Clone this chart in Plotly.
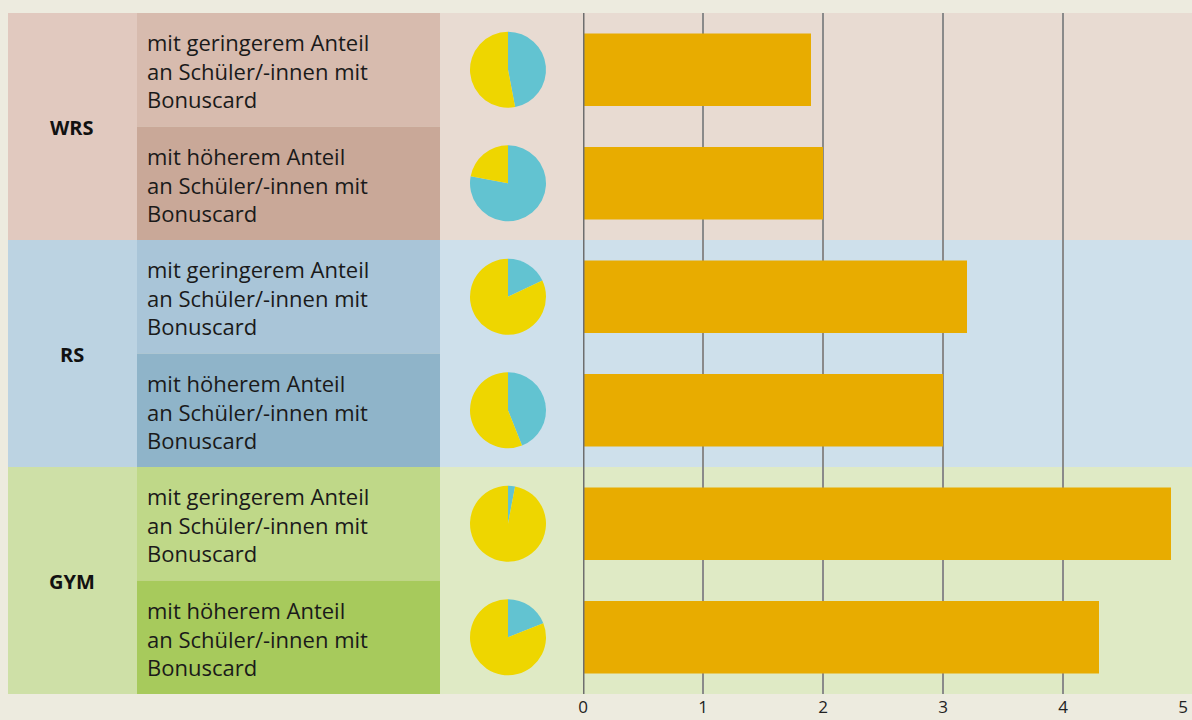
import plotly.graph_objects as go

# ---------------- data ----------------
groups = ["WRS", "RS", "GYM"]
row_ids = ["WRS-ger", "WRS-hoe", "RS-ger", "RS-hoe", "GYM-ger", "GYM-hoe"]
row_labels = [
    "mit geringerem Anteil<br>an Schüler/-innen mit<br>Bonuscard",
    "mit höherem Anteil<br>an Schüler/-innen mit<br>Bonuscard",
    "mit geringerem Anteil<br>an Schüler/-innen mit<br>Bonuscard",
    "mit höherem Anteil<br>an Schüler/-innen mit<br>Bonuscard",
    "mit geringerem Anteil<br>an Schüler/-innen mit<br>Bonuscard",
    "mit höherem Anteil<br>an Schüler/-innen mit<br>Bonuscard",
]
bar_values = [1.9, 2.0, 3.2, 3.0, 4.9, 4.3]
pie_blue = [47, 78, 18, 44, 3, 19]
pie_yellow = [53, 22, 82, 56, 97, 81]
x_ticks = [0, 1, 2, 3, 4, 5]

# ---------------- styles ----------------
W, H = 1192, 720
BG = "#EDEBDF"
group_colors = ["#E1C9BF", "#BCD3E2", "#CEE0A7"]
label_colors = [("#D7BBAE", "#C9A898"), ("#A9C5D8", "#8FB4C9"), ("#BFD888", "#A7CA5C")]
area_colors = ["#E8DBD2", "#CEE0EB", "#DFEAC5"]
BAR = "#E8AC00"
BLUE = "#62C3D1"
YELLOW = "#EED600"
FONT = "Open Sans"

TOP, BOTTOM = 13, 694
ROW_H = (BOTTOM - TOP) / 6
X_LEFT, X_GRP, X_LAB, X_AREA, X_RIGHT = 8, 137, 440, 440, 1192
X0_PX, X5_PX = 583, 1183


def px(x):
    return x / W


def py(y):
    return 1 - y / H


fig = go.Figure()

fig.add_trace(go.Bar(
    x=bar_values, y=row_ids, orientation="h",
    marker=dict(color=BAR, line=dict(width=0)),
    width=0.64, showlegend=False, hoverinfo="x",
))

shapes = []
annotations = []
for g, name in enumerate(groups):
    y_top = TOP + 2 * g * ROW_H
    y_bot = y_top + 2 * ROW_H
    shapes.append(dict(type="rect", xref="paper", yref="paper", layer="below",
                       x0=px(X_LEFT), x1=px(X_GRP), y0=py(y_bot), y1=py(y_top),
                       fillcolor=group_colors[g], line=dict(width=0)))
    shapes.append(dict(type="rect", xref="paper", yref="paper", layer="below",
                       x0=px(X_AREA), x1=px(X_RIGHT), y0=py(y_bot), y1=py(y_top),
                       fillcolor=area_colors[g], line=dict(width=0)))
    for k in range(2):
        r0 = y_top + k * ROW_H
        shapes.append(dict(type="rect", xref="paper", yref="paper", layer="below",
                           x0=px(X_GRP), x1=px(X_LAB), y0=py(r0 + ROW_H), y1=py(r0),
                           fillcolor=label_colors[g][k], line=dict(width=0)))
    annotations.append(dict(text="<b>%s</b>" % name, xref="paper", yref="paper",
                            x=px(72), y=py((y_top + y_bot) / 2 + 1), xanchor="center",
                            yanchor="middle", showarrow=False,
                            font=dict(family=FONT, size=20, color="#111111")))

for i, lab in enumerate(row_labels):
    cy = TOP + (i + 0.5) * ROW_H
    annotations.append(dict(text=lab, xref="paper", yref="paper",
                            x=px(145), y=py(cy + 1), xanchor="left", yanchor="middle",
                            align="left", showarrow=False,
                            font=dict(family=FONT, size=22, color="#1a1a1a")))
    r = 38
    fig.add_trace(go.Pie(
        values=[pie_blue[i], pie_yellow[i]], labels=["blau", "gelb"],
        marker=dict(colors=[BLUE, YELLOW], line=dict(width=0)),
        sort=False, direction="clockwise", rotation=0,
        textinfo="none", showlegend=False, hoverinfo="percent",
        domain=dict(x=[px(508 - r), px(508 + r)], y=[py(cy + r), py(cy - r)]),
    ))

# zero line
shapes.append(dict(type="line", xref="x", yref="paper", layer="above",
                   x0=0, x1=0, y0=py(BOTTOM), y1=py(TOP),
                   line=dict(color="#6E6E6E", width=3)))

fig.update_layout(
    width=W, height=H,
    margin=dict(l=0, r=0, t=0, b=0, pad=0),
    paper_bgcolor=BG, plot_bgcolor="rgba(0,0,0,0)",
    shapes=shapes, annotations=annotations,
    xaxis=dict(domain=[px(X0_PX), px(X5_PX)], range=[0, 5], tickvals=x_ticks,
               showgrid=True, gridcolor="#8A8A8A", gridwidth=1.5,
               zeroline=False, showline=False, ticks="", automargin=False,
               ticklabelstandoff=1,
               tickfont=dict(family=FONT, size=17, color="#222222"),
               fixedrange=True),
    yaxis=dict(domain=[py(BOTTOM), py(TOP)], categoryorder="array",
               categoryarray=row_ids, range=[5.5, -0.5], type="category",
               showticklabels=False, showgrid=False, zeroline=False, ticks="",
               automargin=False, fixedrange=True),
)

fig.write_html("out.html", config={"displayModeBar": False},
               post_script="document.body.style.margin='0';document.body.style.overflow='hidden';")
